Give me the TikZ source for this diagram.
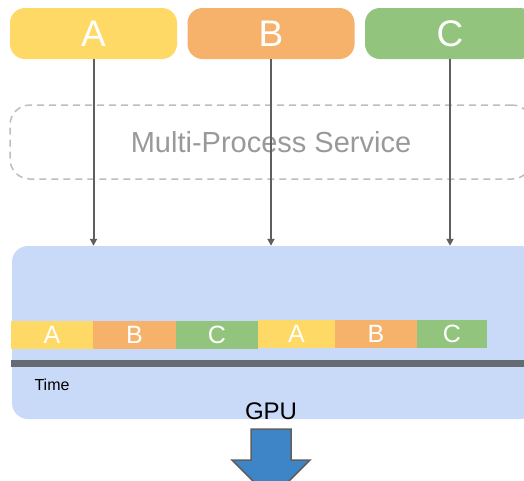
\documentclass[tikz,border=0pt]{standalone}
\usepackage{fontspec}
\setmainfont{Liberation Sans}
\usetikzlibrary{arrows.meta}
\definecolor{procyellow}{HTML}{FFD966}
\definecolor{procorange}{HTML}{F6B26B}
\definecolor{procgreen}{HTML}{93C47D}
\definecolor{gpublue}{HTML}{C9DAF8}
\definecolor{linegray}{HTML}{5F5F5F}
\definecolor{mpsgray}{HTML}{BDBDBD}
\definecolor{mpstext}{HTML}{999999}
\definecolor{bargray}{HTML}{646B73}
\definecolor{arrowblue}{HTML}{3D85C6}

\begin{document}
\begin{tikzpicture}[x=1pt, y=-1pt,
    proc/.style={rounded corners=15pt, minimum width=167pt, minimum height=51pt,
        inner sep=0pt, text=white, font=\fontsize{37}{37}\selectfont},
    slice/.style={minimum height=28pt, inner sep=0pt, text=white,
        font=\fontsize{25}{25}\selectfont},
    flow/.style={-{Triangle[width=7pt,length=7pt]}, line width=2pt, linegray}]
    \useasboundingbox (0,0) rectangle (524,480);

    % processes
    \node[proc, fill=procyellow] (procA) at (93.5,33.5) {A};
    \node[proc, fill=procorange] (procB) at (271,33.5) {B};
    \node[proc, fill=procgreen, minimum width=170pt] (procC) at (450,33.5) {C};

    % MPS layer
    \node[draw=mpsgray, dashed, dash pattern=on 7pt off 5pt, line width=1.5pt,
        rounded corners=20pt, minimum width=522pt, minimum height=74pt,
        text=mpstext, font=\fontsize{29}{29}\selectfont] (mps) at (271,142) {Multi-Process Service};

    % GPU
    \node[fill=gpublue, rounded corners=16pt, minimum width=524pt, minimum height=173pt] (gpu) at (274,332.5) {};
    \node[font=\fontsize{24}{24}\selectfont] (gpulabel) at (271,411) {GPU};
    \node[font=\fontsize{16}{16}\selectfont] (timelabel) at (52,385) {Time};

    % time slices
    \node[slice, fill=procyellow, minimum width=82pt] (sliceA1) at (52,335) {A};
    \node[slice, fill=procorange, minimum width=83pt] (sliceB1) at (134.5,335) {B};
    \node[slice, fill=procgreen, minimum width=82pt] (sliceC1) at (217,335) {C};
    \node[slice, fill=procyellow, minimum width=77pt] (sliceA2) at (296.5,333.5) {A};
    \node[slice, fill=procorange, minimum width=82pt] (sliceB2) at (376,333.5) {B};
    \node[slice, fill=procgreen, minimum width=70pt] (sliceC2) at (452,333.5) {C};
    \draw[line width=7pt, bargray] (11,363.5) -- (530,363.5);

    % kernels going through MPS
    \draw[flow] (procA) -- (procA |- gpu.north);
    \draw[flow] (procB) -- (procB |- gpu.north);
    \draw[flow] (procC) -- (procC |- gpu.north);

    % output arrow
    \draw[fill=arrowblue, draw=linegray, line width=1.5pt]
        (251,429) -- (291,429) -- (291,460) -- (310,460) -- (271,499)
        -- (232,460) -- (251,460) -- cycle;
\end{tikzpicture}
\end{document}
